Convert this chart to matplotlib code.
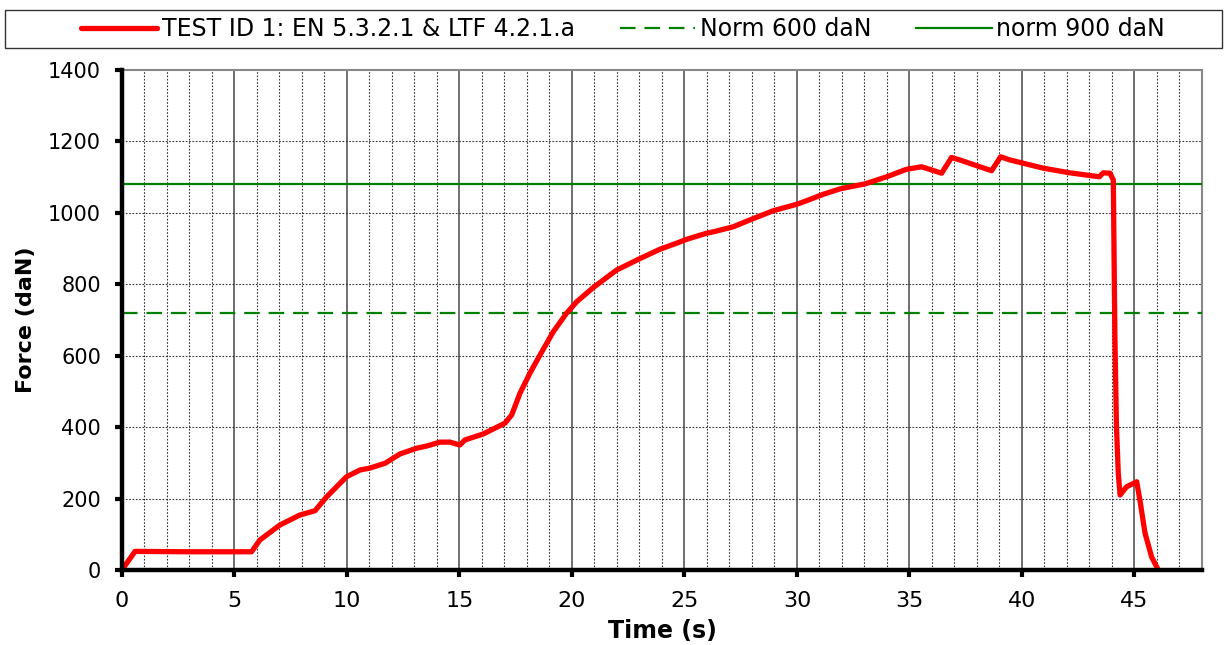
import matplotlib
matplotlib.use("Agg")
import matplotlib.pyplot as plt
from matplotlib.patches import Rectangle
from matplotlib.ticker import MultipleLocator

# Test curve (time in s, force in daN)
time_s = [0, 0.58, 3.0, 5.76, 6.13, 7.02, 7.91, 8.58, 9.1, 9.98,
          10.58, 11.0, 11.7, 12.36, 13.1, 13.54, 14.13, 14.58, 15.02, 15.24,
          16.06, 17.02, 17.32, 17.69, 18.13, 18.58, 19.17, 19.76, 20.21, 20.95,
          21.99, 23.02, 23.91, 24.65, 25.1, 25.99, 26.36, 27.17, 27.98, 28.95,
          29.99, 30.43, 31.17, 31.91, 32.21, 33.02, 33.99, 34.87, 35.54, 36.43,
          36.87, 37.24, 38.13, 38.65, 39.05, 39.47, 40.95, 42.13, 43.44, 43.61,
          43.91, 44.06, 44.13, 44.2, 44.28, 44.36, 44.65, 45.1, 45.24, 45.47,
          45.76, 46.06]
force_dan = [0, 52, 51, 51, 84, 126, 154, 166, 205, 261,
             280, 285, 299, 325, 341, 347, 358, 358, 350, 364,
             381, 411, 434, 495, 551, 602, 667, 719, 751, 791,
             840, 872, 898, 915, 926, 943, 948, 961, 982, 1006,
             1024, 1034, 1052, 1067, 1071, 1081, 1101, 1122, 1129, 1111,
             1155, 1148, 1129, 1118, 1157, 1148, 1125, 1112, 1101, 1112,
             1111, 1092, 653, 401, 271, 210, 233, 247, 196, 103,
             37, 0]

series_label = "TEST ID 1: EN 5.3.2.1 & LTF 4.2.1.a"
norm_labels = ["Norm 600 daN", "norm 900 daN"]
norm_levels = [720, 1080]

fig = plt.figure(figsize=(12.27, 6.45), dpi=100)
ax = fig.add_axes([0.0994, 0.1163, 0.8802, 0.7752])

# grid: dotted every second / 200 daN, solid every 5 s
for x in range(1, 48):
    if x % 5 == 0:
        ax.axvline(x, color="#555555", lw=1.2, zorder=1)
    else:
        ax.axvline(x, color="#333333", lw=0.8, ls=(0, (1.5, 1.5)), zorder=1)
for y in range(200, 1400, 200):
    ax.axhline(y, color="#333333", lw=0.8, ls=(0, (1.5, 1.5)), zorder=1)

h1, = ax.plot(time_s, force_dan, color="#ff0000", lw=3.8, zorder=4,
              solid_joinstyle="round", solid_capstyle="round", label=series_label)
h2 = ax.axhline(norm_levels[0], color="#008000", lw=1.6, ls=(0, (7, 4)), zorder=3,
                label=norm_labels[0])
h3 = ax.axhline(norm_levels[1], color="#008000", lw=1.6, zorder=3, label=norm_labels[1])

ax.set_xlim(0, 48)
ax.set_ylim(0, 1400)
ax.yaxis.set_major_locator(MultipleLocator(200))
ax.set_xticks([0, 5, 10, 15, 20, 25, 30, 35, 40, 45])

for side in ["left", "bottom"]:
    ax.spines[side].set_color("black")
    ax.spines[side].set_linewidth(3.2)
    ax.spines[side].set_zorder(5)
for side in ["top", "right"]:
    ax.spines[side].set_color("#888888")
    ax.spines[side].set_linewidth(1.5)

ax.tick_params(axis="both", direction="out", length=5, width=3, color="black")
ax.tick_params(axis="x", labelsize=16, pad=10)
ax.tick_params(axis="y", labelsize=15, pad=10)
ax.set_xlabel("Time (s)", fontsize=17, fontweight="bold", labelpad=6)
ax.set_ylabel("Force (daN)", fontsize=16, fontweight="bold", labelpad=9)

# legend in a full-width box above the plot
fig.patches.append(Rectangle((0.004, 0.9256), 0.992, 0.0589, transform=fig.transFigure,
                             fill=False, edgecolor="#333333", lw=1.0))
fig.legend(handles=[h1, h2, h3], loc="center", bbox_to_anchor=(0.508, 0.955),
           ncol=3, frameon=False, fontsize=17, handlelength=3.2,
           handletextpad=0.2, columnspacing=1.9, borderpad=0.2)

plt.savefig("out.png", dpi=100)
